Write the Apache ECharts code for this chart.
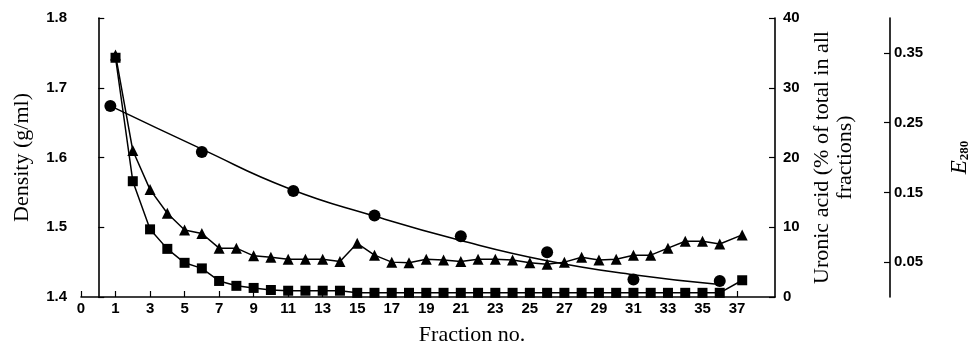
<!DOCTYPE html>
<html>
<head>
<meta charset="utf-8">
<script src="https://cdn.jsdelivr.net/npm/echarts@6/dist/echarts.min.js"></script>
<style>
  html, body { margin: 0; padding: 0; background: #fff; }
  #chart { width: 979px; height: 351px; }
</style>
</head>
<body>
<div id="chart"></div>
<script type="text/javascript">
// fraction numbers (x) for square / triangle series
var fractions = [1, 2, 3, 4, 5, 6, 7, 8, 9, 10, 11, 12, 13, 14, 15, 16, 17, 18, 19, 20,
	21, 22, 23, 24, 25, 26, 27, 28, 29, 30, 31, 32, 33, 34, 35, 36, 37.3];
// uronic acid, % of total (squares, right axis)
var uronicAcid = [34.3, 16.6, 9.7, 6.9, 4.9, 4.1, 2.3, 1.6, 1.3, 1.0, 0.9, 0.9, 0.9, 0.9,
	0.6, 0.6, 0.6, 0.6, 0.6, 0.6, 0.6, 0.6, 0.6, 0.6, 0.6, 0.6, 0.6, 0.6, 0.6, 0.6,
	0.6, 0.6, 0.6, 0.6, 0.6, 0.6, 2.4];
// E280 (triangles, outer axis)
var e280 = [0.347, 0.21, 0.154, 0.12, 0.096, 0.091, 0.07, 0.07, 0.059, 0.057, 0.054, 0.054,
	0.054, 0.051, 0.077, 0.06, 0.05, 0.049, 0.054, 0.053, 0.051, 0.054, 0.054, 0.053,
	0.049, 0.047, 0.05, 0.057, 0.053, 0.054, 0.06, 0.06, 0.07, 0.08, 0.08, 0.076, 0.089];
// density, measured points (circles)
var densityFractions = [0.7, 6, 11.3, 16, 21, 26, 31, 36];
var density = [1.674, 1.608, 1.552, 1.517, 1.487, 1.464, 1.425, 1.423];
// density, fitted curve
var fitFractions = [0.7, 6, 11, 16, 21, 26, 31, 36];
var densityFit = [1.674, 1.612, 1.556, 1.516, 1.481, 1.452, 1.432, 1.418];
// tick labels
var xTicks = [-1, 1, 3, 5, 7, 9, 11, 13, 15, 17, 19, 21, 23, 25, 27, 29, 31, 33, 35, 37];
var e280Ticks = [0.05, 0.15, 0.25, 0.35];

function pairs(xs, ys) {
	var out = [];
	for (var i = 0; i < xs.length; i++) {
		out.push([xs[i], ys[i]]);
	}
	return out;
}

var labelFont = { color: '#000', fontFamily: 'Liberation Sans', fontWeight: 'bold', fontSize: 15 };
var nameFont = { color: '#000', fontFamily: 'Liberation Serif', fontSize: 22 };
var axisLine = { show: true, lineStyle: { color: '#000', width: 1.6 } };
var tick = { show: true, inside: true, length: 6, lineStyle: { color: '#000', width: 1.2 } };

var chart = echarts.init(document.getElementById('chart'), null, { renderer: 'canvas' });
var option = {
	animation: false,
	backgroundColor: '#fff',
	grid: { left: 81, right: 196, top: 18, bottom: 54 },
	xAxis: {
		type: 'value',
		min: -1,
		max: 39.2,
		name: 'Fraction no.',
		nameLocation: 'middle',
		nameGap: 27,
		nameTextStyle: Object.assign({}, nameFont, { padding: [0, 0, 0, 88] }),
		axisLine: axisLine,
		axisTick: Object.assign({}, tick, { customValues: xTicks }),
		axisLabel: Object.assign({}, labelFont, {
			margin: 4,
			customValues: xTicks,
			formatter: function (v) { return v === -1 ? '0' : String(v); }
		}),
		splitLine: { show: false }
	},
	yAxis: [
		{
			type: 'value',
			position: 'left',
			min: 1.4,
			max: 1.8,
			interval: 0.1,
			name: 'Density (g/ml)',
			nameLocation: 'middle',
			nameRotate: 90,
			nameGap: 48,
			nameTextStyle: nameFont,
			axisLine: axisLine,
			axisTick: tick,
			axisLabel: Object.assign({}, labelFont, {
				margin: 14,
				formatter: function (v) { return v.toFixed(1); }
			}),
			splitLine: { show: false }
		},
		{
			type: 'value',
			position: 'right',
			min: 0,
			max: 40,
			interval: 10,
			name: 'Uronic acid (% of total in all\nfractions)',
			nameLocation: 'middle',
			nameRotate: 90,
			nameGap: 36,
			nameTextStyle: Object.assign({}, nameFont, { lineHeight: 23, align: 'center' }),
			axisLine: axisLine,
			axisTick: tick,
			axisLabel: Object.assign({}, labelFont, { margin: 8 }),
			splitLine: { show: false }
		},
		{
			type: 'value',
			position: 'right',
			offset: 115,
			min: 0,
			max: 0.4,
			name: '{e|E}{s|280}',
			nameLocation: 'middle',
			nameRotate: 90,
			nameGap: 58,
			nameTextStyle: {
				rich: {
					e: { fontFamily: 'Liberation Serif', fontStyle: 'italic', fontSize: 23, color: '#000' },
					s: { fontFamily: 'Liberation Serif', fontWeight: 'bold', fontSize: 13, color: '#000', padding: [10, 0, 0, 0] }
				}
			},
			axisLine: axisLine,
			axisTick: Object.assign({}, tick, { customValues: e280Ticks }),
			axisLabel: Object.assign({}, labelFont, {
				margin: 4,
				customValues: e280Ticks,
				formatter: function (v) { return v.toFixed(2); }
			}),
			splitLine: { show: false }
		}
	],
	series: [
		{
			name: 'Density fit',
			type: 'line',
			yAxisIndex: 0,
			smooth: true,
			showSymbol: false,
			lineStyle: { color: '#000', width: 1.5 },
			data: pairs(fitFractions, densityFit)
		},
		{
			name: 'Density',
			type: 'scatter',
			yAxisIndex: 0,
			symbol: 'circle',
			symbolSize: 12,
			itemStyle: { color: '#000', opacity: 1 },
			data: pairs(densityFractions, density)
		},
		{
			name: 'Uronic acid',
			type: 'line',
			yAxisIndex: 1,
			symbol: 'rect',
			symbolSize: 10,
			itemStyle: { color: '#000' },
			lineStyle: { color: '#000', width: 1.5 },
			data: pairs(fractions, uronicAcid)
		},
		{
			name: 'E280',
			type: 'line',
			yAxisIndex: 2,
			symbol: 'triangle',
			symbolSize: 11,
			itemStyle: { color: '#000' },
			lineStyle: { color: '#000', width: 1.5 },
			data: pairs(fractions, e280)
		}
	]
};
chart.setOption(option);
</script>
</body>
</html>
